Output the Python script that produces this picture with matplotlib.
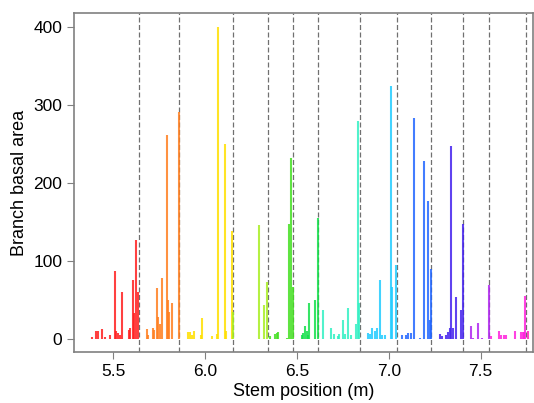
import numpy as np
import matplotlib
matplotlib.use("Agg")
import matplotlib.pyplot as plt

# stem positions (m) and branch basal areas
positions = [
    5.382, 5.406, 5.418, 5.439, 5.453, 5.482, 5.509, 5.515, 5.524, 5.535,
    5.547, 5.587, 5.592, 5.607, 5.614, 5.625, 5.634,
    5.682, 5.690, 5.718, 5.723, 5.736, 5.745, 5.754, 5.765, 5.792, 5.799,
    5.805, 5.818, 5.856,
    5.908, 5.917, 5.930, 5.941, 5.976, 5.983, 6.035, 6.063, 6.068, 6.106,
    6.115, 6.146,
    6.151, 6.294, 6.318, 6.336,
    6.353, 6.378, 6.389, 6.398, 6.444, 6.454, 6.465, 6.477,
    6.525, 6.534, 6.543, 6.552, 6.561, 6.566, 6.597, 6.612,
    6.639, 6.685, 6.702, 6.721, 6.730, 6.750, 6.759, 6.775, 6.793, 6.819,
    6.830, 6.839,
    6.887, 6.900, 6.911, 6.924, 6.933, 6.951, 6.960, 6.977, 7.011, 7.016,
    7.038,
    7.069, 7.093, 7.105, 7.118, 7.136, 7.169, 7.192, 7.211, 7.225, 7.230,
    7.278, 7.287, 7.310, 7.323, 7.332, 7.337, 7.347, 7.368, 7.392, 7.404,
    7.445, 7.456, 7.484, 7.506, 7.544,
    7.555, 7.600, 7.608, 7.627, 7.635, 7.687, 7.717, 7.728, 7.738, 7.742,
    7.755,
]
areas = [
    3, 10, 10, 13, 3, 5, 88, 10, 8, 6,
    60, 12, 14, 76, 34, 127, 61,
    13, 5, 14, 12, 66, 28, 20, 79, 262, 50,
    35, 46, 292,
    9, 9, 5, 10, 5, 27, 4, 7, 400, 250,
    10, 139,
    35, 147, 44, 73,
    4, 7, 8, 9, 2, 148, 233, 67,
    5, 8, 17, 11, 6, 46, 50, 155,
    37, 14, 7, 4, 7, 25, 7, 40, 5, 20,
    280, 46,
    8, 7, 14, 10, 14, 76, 6, 6, 325, 67,
    95,
    6, 6, 8, 8, 284, 2, 228, 177, 25, 90,
    7, 4, 6, 9, 14, 248, 14, 54, 38, 148,
    17, 2, 21, 2, 70,
    4, 10, 6, 5, 5, 10, 9, 9, 9, 55,
    10,
]

# dashed separators between segments
boundaries = [5.638, 5.857, 6.150, 6.340, 6.479, 6.615, 6.842, 7.042,
              7.232, 7.406, 7.546, 7.744]

seg_colors = ['#ff1f1f', '#ff7f1f', '#ffe000', '#a8ee22', '#44e022',
              '#14e04a', '#33f0c4', '#22ccff', '#2266ff', '#4422ee',
              '#b026f0', '#ff22dd', '#ff22bb']

x = np.array(positions)
h = np.array(areas)
seg = np.searchsorted(boundaries, x, side='right')
colors = [seg_colors[i] for i in seg]

plt.rcParams['font.family'] = ['Liberation Sans', 'DejaVu Sans']

fig = plt.figure(figsize=(5.34, 4.03), dpi=100)
ax = fig.add_axes([0.139, 0.126, 0.859, 0.841])

for b in boundaries:
    ax.axvline(b, color='#707070', linestyle=(0, (4, 2)), linewidth=0.9, zorder=1)

ax.vlines(x, 0, h, colors=colors, linewidth=1.5, alpha=0.85, zorder=2)

ax.set_xlim(5.288, 7.784)
ax.set_ylim(-16.7, 418)
ax.set_xticks([5.5, 6.0, 6.5, 7.0, 7.5])
ax.set_yticks([0, 100, 200, 300, 400])

for s in ax.spines.values():
    s.set_color('#808080')
    s.set_linewidth(1.2)
ax.tick_params(direction='out', length=5, color='#808080', labelsize=12.5)

ax.set_xlabel("Stem position (m)", fontsize=13, labelpad=3)
ax.set_ylabel("Branch basal area", fontsize=13, labelpad=4)

fig.savefig("out.png", dpi=100)
